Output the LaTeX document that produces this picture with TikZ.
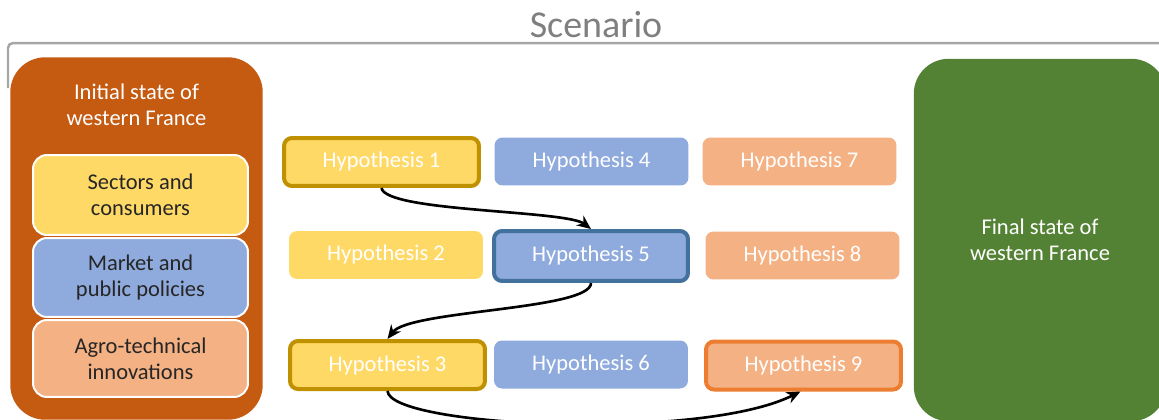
\documentclass[tikz,border=0pt]{standalone}
\usepackage{fontspec}
\setmainfont{Carlito}
\usetikzlibrary{arrows.meta}
\definecolor{rust}{HTML}{C55A11}
\definecolor{leaf}{HTML}{548235}
\definecolor{sun}{HTML}{FFD966}
\definecolor{sky}{HTML}{8FAADC}
\definecolor{peach}{HTML}{F4B183}
\definecolor{gold}{HTML}{BF9000}
\definecolor{navy}{HTML}{41719C}
\definecolor{tang}{HTML}{ED7D31}
\definecolor{frame}{HTML}{A6A6A6}
\definecolor{title}{HTML}{7F7F7F}

\begin{document}
\begin{tikzpicture}[x=0.02cm,y=-0.02cm,line width=0.3pt,
  hyp/.style={rounded corners=0.16cm,minimum width=3.88cm,minimum height=0.96cm,inner sep=0pt,text=white,font=\fontsize{12.8}{15}\selectfont},
  chosen/.style={draw=#1,line width=0.08cm},
  part/.style={draw=white,line width=0.04cm,rounded corners=0.28cm,minimum width=4.3cm,inner sep=0pt,align=center,text=black!85,font=\fontsize{12.8}{14.8}\selectfont},
  statebox/.style={rounded corners=0.7cm,minimum width=5.05cm,minimum height=7.25cm,inner sep=0pt,text=white,align=center,font=\fontsize{12.8}{14.8}\selectfont},
  hopline/.style={-{Stealth[length=0.28cm,width=0.24cm]},line width=1.5pt}]
\useasboundingbox (0,0) rectangle (1159,419);
\draw[frame,line width=0.05cm,rounded corners=0.1cm] (8,88) -- (8,43) -- (1175,43);
\node[text=title,font=\fontsize{21.6}{24}\selectfont] (scenario) at (596,25) {Scenario};
\node[statebox,fill=rust] (initial) at (136.5,238.5) {};
\node[text=white,align=center,font=\fontsize{12.8}{14.8}\selectfont] (initialtxt) at (136.5,105) {Initial state of\\western France};
\node[part,fill=sun,minimum height=1.6cm] (sectors) at (140.5,195) {Sectors and\\consumers};
\node[part,fill=sky,minimum height=1.58cm] (market) at (140.5,277.5) {Market and\\public policies};
\node[part,fill=peach,minimum height=1.54cm] (agro) at (140.5,358.5) {Agro-technical\\innovations};
\node[statebox,fill=leaf] (final) at (1040,240) {Final state of\\western France};
\node[hyp,fill=sun,chosen=gold,minimum width=3.9cm] (hyp1) at (381.5,162) {Hypothesis 1};
\node[hyp,fill=sun] (hyp2) at (386,255) {Hypothesis 2};
\node[hyp,fill=sun,chosen=gold,minimum width=3.9cm] (hyp3) at (387.5,365) {Hypothesis 3};
\node[hyp,fill=sky] (hyp4) at (591.5,161.5) {Hypothesis 4};
\node[hyp,fill=sky,chosen=navy,minimum height=1cm] (hyp5) at (591,256) {Hypothesis 5};
\node[hyp,fill=sky] (hyp6) at (591,364.5) {Hypothesis 6};
\node[hyp,fill=peach] (hyp7) at (799.5,161.5) {Hypothesis 7};
\node[hyp,fill=peach] (hyp8) at (802.5,255.5) {Hypothesis 8};
\node[hyp,fill=peach,chosen=tang,minimum width=3.9cm] (hyp9) at (803.5,365.5) {Hypothesis 9};
\draw[hopline] (hyp1.south) .. controls +(4,24) and +(-25,-19) .. (hyp5.north);
\draw[hopline] (hyp5.south) .. controls +(0,27) and +(22,-29) .. (hyp3.north);
\draw[hopline] (hyp3.south) .. controls +(2,36) and +(-100,50) .. ([xshift=-0.06cm]hyp9.south);
\end{tikzpicture}
\end{document}
